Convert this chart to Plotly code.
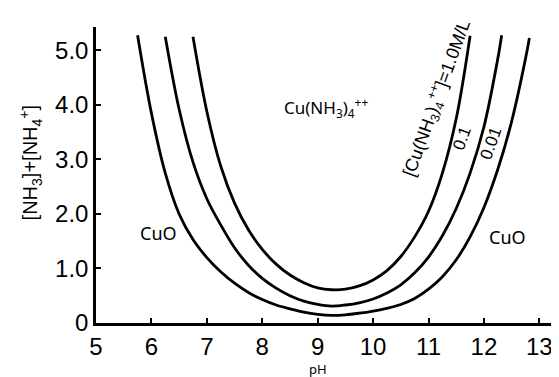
import plotly.graph_objects as go

# Values at regular pH steps (left arm -> minimum -> right arm)
ph_inner = [6.75, 7.0, 7.25, 7.5, 7.75, 8.0, 8.25, 8.5, 8.75, 9.0, 9.25,
            9.5, 9.75, 10.0, 10.25, 10.5, 10.75, 11.0, 11.25, 11.5, 11.75]
val_inner = [5.25, 3.88, 2.88, 2.20, 1.71, 1.35, 1.08, 0.88, 0.74, 0.645, 0.61,
             0.62, 0.68, 0.79, 0.96, 1.22, 1.58, 2.05, 2.75, 3.75, 5.27]

ph_mid = [6.25, 6.5, 6.75, 7.0, 7.25, 7.5, 7.75, 8.0, 8.25, 8.5, 8.75, 9.0, 9.25,
          9.5, 9.75, 10.0, 10.25, 10.5, 10.75, 11.0, 11.25, 11.5, 11.75, 12.0, 12.25, 12.32]
val_mid = [5.25, 3.92, 2.95, 2.28, 1.80, 1.38, 1.06, 0.82, 0.64, 0.50, 0.40, 0.34, 0.31,
           0.33, 0.37, 0.44, 0.55, 0.70, 0.92, 1.21, 1.60, 2.10, 2.75, 3.60, 4.85, 5.28]

ph_outer = [5.75, 6.0, 6.25, 6.5, 6.75, 7.0, 7.25, 7.5, 7.75, 8.0, 8.25, 8.5, 8.75, 9.0, 9.25,
            9.5, 9.75, 10.0, 10.25, 10.5, 10.75, 11.0, 11.25, 11.5, 11.75, 12.0, 12.25, 12.5, 12.75, 12.82]
val_outer = [5.28, 3.85, 2.75, 2.00, 1.53, 1.20, 0.94, 0.73, 0.56, 0.43, 0.33, 0.26, 0.20, 0.16, 0.14,
             0.15, 0.18, 0.22, 0.27, 0.34, 0.45, 0.62, 0.85, 1.16, 1.58, 2.12, 2.82, 3.70, 4.85, 5.23]

x_ticks = [5, 6, 7, 8, 9, 10, 11, 12, 13]
y_ticks = [0, 1, 2, 3, 4, 5]
y_tick_labels = ["0", "1.0", "2.0", "3.0", "4.0", "5.0"]

FONT = "Liberation Sans, Arial, sans-serif"
LBL = "Noto Sans, DejaVu Sans, sans-serif"

fig = go.Figure()
for xs, ys in [(ph_inner, val_inner), (ph_mid, val_mid), (ph_outer, val_outer)]:
    fig.add_trace(go.Scatter(x=xs, y=ys, mode="lines",
                             line=dict(color="black", width=2.8, shape="spline", smoothing=1.0),
                             showlegend=False, hoverinfo="skip"))

# page body has an 8px margin, so the figure is 8px smaller than the window
fig.update_layout(
    width=551, height=369,
    margin=dict(l=88, r=3, t=19, b=54),
    paper_bgcolor="white", plot_bgcolor="white",
    xaxis=dict(range=[5, 13.3], tickvals=x_ticks, ticks="inside", ticklen=5, tickwidth=1.5,
               tickcolor="black", showline=True, linecolor="black", linewidth=2.5,
               showgrid=False, zeroline=False, automargin=False,
               tickfont=dict(family=FONT, size=24, color="black")),
    yaxis=dict(range=[0, 5.43], tickvals=y_ticks, ticktext=y_tick_labels, ticks="inside",
               ticklen=5, tickwidth=1.5, tickcolor="black", showline=True, linecolor="black",
               linewidth=2.5, showgrid=False, zeroline=False, automargin=False,
               tickfont=dict(family=FONT, size=24, color="black")),
)

annos = [
    # axis titles
    dict(xref="paper", yref="paper", x=-0.143, y=0.54, text="[NH<sub>3</sub>]+[NH<sub>4</sub><sup>+</sup>]",
         textangle=-90, font=dict(family=FONT, size=20)),
    dict(xref="x", yref="paper", x=9.0, y=-0.155, text="pH", textangle=0,
         font=dict(family=LBL, size=13)),
    # region labels
    dict(xref="x", yref="y", x=9.15, y=3.95, text="Cu(NH<sub>3</sub>)<sub>4</sub><sup>++</sup>", textangle=0,
         font=dict(family=LBL, size=17)),
    dict(xref="x", yref="y", x=6.12, y=1.65, text="CuO", textangle=0, font=dict(family=LBL, size=18)),
    dict(xref="x", yref="y", x=12.42, y=1.58, text="CuO", textangle=0, font=dict(family=LBL, size=18)),
    # curve labels
    dict(xref="x", yref="y", x=11.14, y=4.12, text="[Cu(NH<sub>3</sub>)<sub>4</sub><sup>++</sup>]=1.0M/L",
         textangle=-70, font=dict(family=FONT, size=18)),
    dict(xref="x", yref="y", x=11.6, y=3.39, text="0.1", textangle=-70, font=dict(family=FONT, size=17)),
    dict(xref="x", yref="y", x=12.12, y=3.3, text="0.01", textangle=-70, font=dict(family=FONT, size=17)),
]
for a in annos:
    fig.add_annotation(showarrow=False, xanchor="center", yanchor="middle", **a)
fig.update_annotations(font_color="black")

fig.write_html("out.html")
